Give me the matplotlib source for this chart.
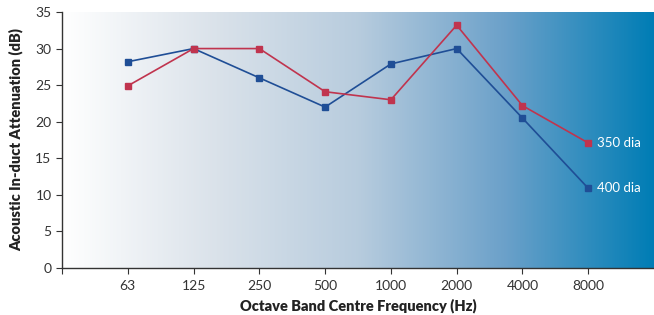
import numpy as np
import matplotlib
matplotlib.use('Agg')
import matplotlib.pyplot as plt
from matplotlib.colors import LinearSegmentedColormap

freqs = ['63', '125', '250', '500', '1000', '2000', '4000', '8000']
dia_400 = [28.2, 30.0, 26.0, 22.0, 27.9, 30.0, 20.5, 10.9]
dia_350 = [24.9, 30.0, 30.0, 24.1, 23.0, 33.2, 22.2, 17.1]
series_names = ['400 dia', '350 dia']

plt.rcParams['font.family'] = ['Lato', 'DejaVu Sans']

fig = plt.figure(figsize=(6.54, 3.15), dpi=100)
ax = fig.add_axes([62/654, 47/315, 592/654, 256/315])

# background gradient, white at left to deep blue at right
grad = LinearSegmentedColormap.from_list('bg', [
    (0.0, (1.0, 1.0, 1.0)),
    (0.25, (0.86, 0.89, 0.92)),
    (0.5, (0.72, 0.80, 0.87)),
    (0.75, (0.42, 0.63, 0.79)),
    (1.0, (0.0, 0.49, 0.71)),
])
ax.imshow(np.linspace(0, 1, 256).reshape(1, -1), cmap=grad, aspect='auto',
          extent=(0, 9, 0, 35), zorder=0)

x = np.arange(1, len(freqs) + 1)
blue = '#1f4e96'
red = '#c0344e'
ax.plot(x, dia_400, color=blue, lw=1.2, marker='s', ms=5, zorder=3)
ax.plot(x, dia_350, color=red, lw=1.2, marker='s', ms=5, zorder=3)

ax.text(x[-1] + 0.13, dia_350[-1], series_names[1], color='white',
        fontsize=9.5, va='center', ha='left')
ax.text(x[-1] + 0.13, dia_400[-1], series_names[0], color='white',
        fontsize=9.5, va='center', ha='left')

ax.set_xlim(0, 9)
ax.set_ylim(0, 35)
ax.set_xticks(np.arange(0, 9))
ax.set_xticklabels([''] + freqs)
ax.set_yticks(np.arange(0, 36, 5))

for s in ['top', 'right']:
    ax.spines[s].set_visible(False)
for s in ['left', 'bottom']:
    ax.spines[s].set_color('#333333')
    ax.spines[s].set_linewidth(1.0)

ax.tick_params(axis='both', colors='#333333', labelsize=10, direction='out',
               length=4)
ax.tick_params(axis='x', pad=5)

ax.set_xlabel('Octave Band Centre Frequency (Hz)', fontsize=10.5,
              fontweight='heavy', color='#222222', labelpad=4)
ax.set_ylabel('Acoustic In-duct Attenuation (dB)', fontsize=10.5,
              fontweight='heavy', color='#222222', labelpad=9)

fig.savefig('out.png', dpi=100)
